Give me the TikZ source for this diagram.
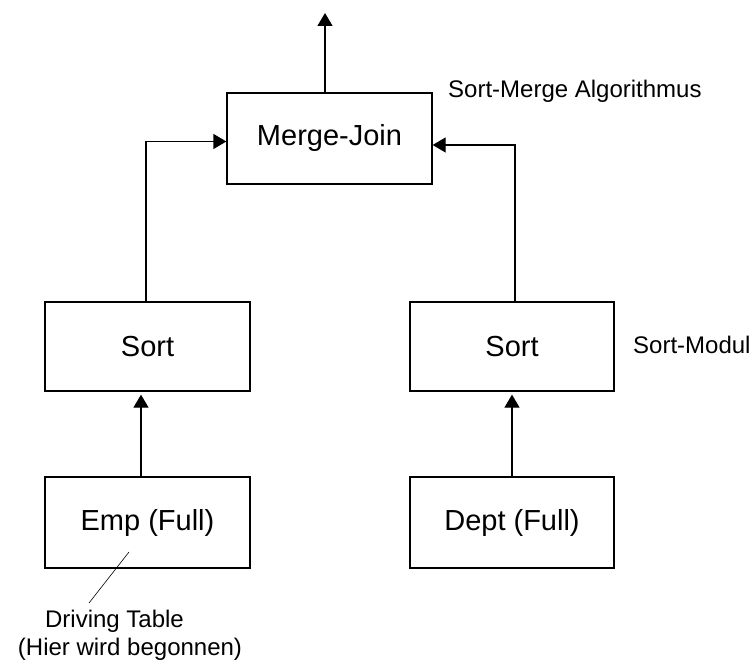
\documentclass[tikz,border=0pt]{standalone}
\usepackage{fontspec}
\setmainfont{Liberation Sans}
\usetikzlibrary{arrows.meta}

\tikzset{
  opbox/.style={draw, line width=1.3pt, minimum width=205pt, inner sep=0pt,
                font=\fontsize{29}{34}\selectfont},
  note/.style={inner sep=0pt, font=\fontsize{24}{28}\selectfont},
  flow/.style={line width=1.3pt, -{Triangle[length=13pt,width=15pt]}},
  leader/.style={line width=0.6pt}
}

\begin{document}
\begin{tikzpicture}[x=1pt, y=-1pt]
  \useasboundingbox (0,0) rectangle (754,660);

  % operator boxes
  \node[opbox, minimum height=91pt] (mj) at (329.5,138.5) {Merge-Join};
  \node[opbox, minimum height=89pt] (sl) at (147.5,346.5) {Sort};
  \node[opbox, minimum height=89pt, minimum width=204pt] (sr) at (512,346.5) {Sort};
  \node[opbox, minimum height=91pt] (el) at (147.5,522.5) {Emp (Full)};
  \node[opbox, minimum height=91pt, minimum width=204pt] (er) at (512,522.5) {Dept (Full)};

  % side notes
  \node[note, anchor=west] (alg) at (448,91) {Sort-Merge Algorithmus};
  \node[note, anchor=west] (mod) at (633,345) {Sort-Modul};
  \node[note] (dt1) at (114.5,621) {Driving Table};
  \node[note] (dt2) at (130,649) {(Hier wird begonnen)};

  % result leaves the join upwards
  \coordinate (out) at (325,13);
  \draw[flow] (mj.north -| out) -- (out);

  % sorted inputs into the join
  \draw[flow] ([xshift=-1.5pt]sl.north) |- ([yshift=-3pt]mj.west);
  \draw[flow] ([xshift=3pt]sr.north) |- ([yshift=-6.5pt]mj.east);

  % tables into the sort modules
  \draw[flow, shorten >=3pt] ([xshift=-6.5pt]el.north) -- ([xshift=-6.5pt]sl.south);
  \draw[flow, shorten >=3pt] ([xshift=0pt]er.north) -- ([xshift=0pt]sr.south);

  % leader for the driving table note
  \coordinate (lda) at (129,552);
  \coordinate (ldb) at (89,603);
  \draw[leader] (lda) -- (ldb);
\end{tikzpicture}
\end{document}
